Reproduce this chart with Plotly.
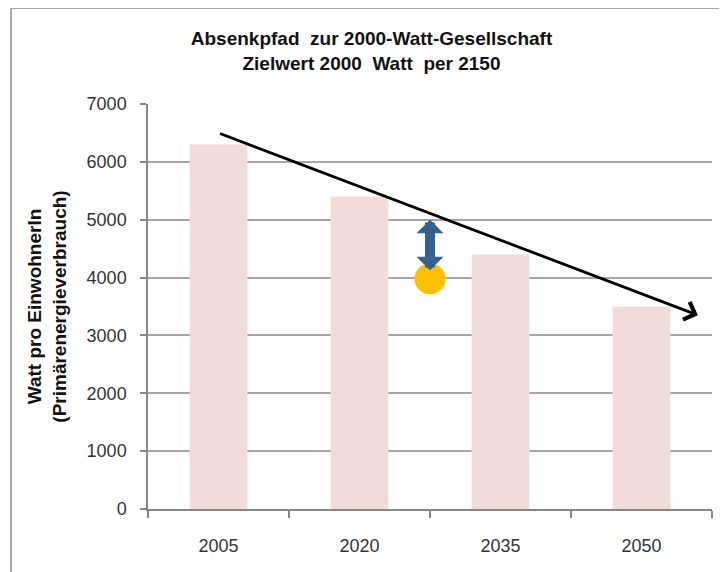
import plotly.graph_objects as go

# ---- data ----
years = ["2005", "2020", "2035", "2050"]
watt_per_person = [6300, 5400, 4400, 3500]

trend_x = [0, 3.4]          # category-index positions of the trend arrow (start, end)
trend_y = [6500, 3350]

target_x = [1.5]
target_y = [3980]

gap_x = 1.5
gap_y = [4100, 5000]        # double arrow (bottom tip, top tip)

y_ticks = [0, 1000, 2000, 3000, 4000, 5000, 6000, 7000]

title_text = "Absenkpfad  zur 2000-Watt-Gesellschaft<br>Zielwert 2000  Watt  per 2150"
y_title = "Watt pro EinwohnerIn<br>(Primärenergieverbrauch)"

FONT = "Liberation Sans, Arial, sans-serif"
positions = list(range(len(years)))

fig = go.Figure()

fig.add_trace(go.Bar(
    x=positions, y=watt_per_person, width=0.41,
    marker=dict(color="#F2DCDB", line=dict(width=0)),
    hoverinfo="skip", showlegend=False,
))

fig.add_trace(go.Scatter(
    x=target_x, y=target_y, mode="markers",
    marker=dict(size=31, color="#FFC000", line=dict(width=0)),
    hoverinfo="skip", showlegend=False,
))

# trend arrow (black)
fig.add_annotation(
    x=trend_x[1], y=trend_y[1], ax=trend_x[0], ay=trend_y[0],
    xref="x", yref="y", axref="x", ayref="y",
    text="", showarrow=True, arrowhead=4, arrowsize=1.3,
    arrowwidth=2.8, arrowcolor="#000000", standoff=0,
)

# double arrow (blue)
fig.add_annotation(
    x=gap_x, y=gap_y[1], ax=gap_x, ay=gap_y[0],
    xref="x", yref="y", axref="x", ayref="y",
    text="", showarrow=True, arrowside="end+start",
    arrowhead=1, startarrowhead=1, arrowsize=0.45, startarrowsize=0.45,
    arrowwidth=10, arrowcolor="#376092", standoff=0, startstandoff=0,
)

fig.update_layout(
    width=727, height=572,
    margin=dict(l=140, r=23, t=96, b=71),
    paper_bgcolor="white", plot_bgcolor="white",
    font=dict(family=FONT, color="#333333"),
    title=dict(
        text=title_text, x=0.5, xanchor="center", xref="container",
        y=0.935, yanchor="top",
        font=dict(family=FONT, size=19, color="#111111", weight="bold"),
    ),
    shapes=[dict(
        type="rect", xref="paper", yref="paper",
        x0=-0.2429, x1=1.4, y0=-0.3, y1=1.237,
        line=dict(color="#8C8C8C", width=1.5), fillcolor="rgba(0,0,0,0)",
        layer="below",
    )],
)

fig.update_xaxes(
    range=[-0.5, 3.5], tickmode="array", tickvals=positions, ticktext=years,
    ticks="", showgrid=False, zeroline=False,
    showline=True, linecolor="#868686", linewidth=1.5,
    tickfont=dict(family=FONT, size=18, color="#333333"),
    ticklabelstandoff=20,
    minor=dict(tickmode="array", tickvals=[-0.5, 0.5, 1.5, 2.5, 3.5],
               ticks="outside", ticklen=7, tickcolor="#868686", tickwidth=1.5,
               showgrid=False),
    fixedrange=True,
)

fig.update_yaxes(
    range=[0, 7000], tickmode="array", tickvals=y_ticks,
    ticks="outside", ticklen=6, tickcolor="#868686", tickwidth=1.5,
    showgrid=True, gridcolor="#A6A6A6", gridwidth=1.5,
    zeroline=False, showline=True, linecolor="#868686", linewidth=1.5,
    tickfont=dict(family=FONT, size=18, color="#333333"),
    ticklabelstandoff=10,
    title=dict(text=y_title, standoff=15,
               font=dict(family=FONT, size=19, color="#111111", weight="bold")),
    fixedrange=True,
)

fig.write_html("out.html")
